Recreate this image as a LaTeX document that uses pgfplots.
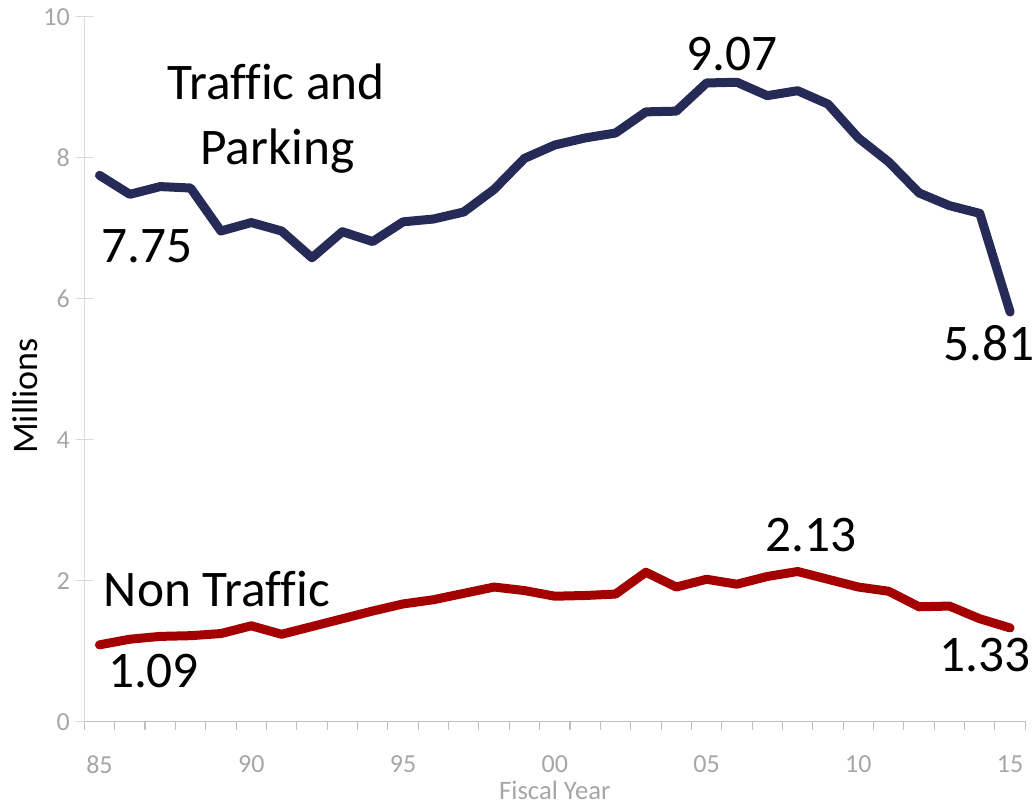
\documentclass[border=0pt]{standalone}
\usepackage{pgfplots}
\pgfplotsset{compat=1.18}
\usepackage{fontspec}
\setmainfont{Carlito}[Ligatures=NoCommon]
\definecolor{navy}{HTML}{262A56}
\definecolor{dred}{HTML}{A50000}
\definecolor{tickgray}{HTML}{A6A6A6}
\definecolor{ylinegray}{HTML}{D9D9D9}
\definecolor{xlinegray}{HTML}{BFBFBF}
\begin{document}
\begin{tikzpicture}
\useasboundingbox (0,0) rectangle (775.5pt,603.75pt);
\begin{axis}[
  at={(63.225pt,62.475pt)}, anchor=south west,
  scale only axis, width=705.75pt, height=528.75pt,
  xmin=-0.5, xmax=30.5, ymin=0, ymax=10,
  clip=false,
  axis x line*=bottom, axis y line*=left,
  x axis line style={draw=xlinegray, line width=1pt},
  y axis line style={draw=ylinegray, line width=1pt},
  xtick={0,5,...,30},
  xticklabels={85,90,95,00,05,10,15},
  minor xtick={-0.5,0.5,...,30.5},
  major x tick style={draw=none},
  minor x tick style={draw=xlinegray, line width=0.8pt},
  xtick align=outside,
  minor tick length=5.8pt,
  ytick={0,2,...,10},
  yticklabels={0,2,4,6,8,10},
  ytick align=center,
  major tick length=12.75pt,
  y tick style={draw=ylinegray, line width=0.8pt},
  tick label style={font=\fontsize{19.5}{20}\selectfont, text=tickgray},
  xticklabel style={yshift=-9.5pt},
  yticklabel style={xshift=-1pt},
  line join=round, line cap=round,
]
\addplot[navy, line width=6.75pt] coordinates {
(0,7.75)(1,7.48)(2,7.59)(3,7.57)(4,6.96)(5,7.08)(6,6.96)(7,6.58)(8,6.95)(9,6.81)
(10,7.09)(11,7.13)(12,7.23)(13,7.55)(14,7.99)(15,8.18)(16,8.28)(17,8.35)(18,8.65)(19,8.66)
(20,9.06)(21,9.07)(22,8.88)(23,8.95)(24,8.76)(25,8.28)(26,7.94)(27,7.50)(28,7.32)(29,7.21)(30,5.81)};
\addplot[dred, line width=6.75pt] coordinates {
(0,1.09)(1,1.17)(2,1.21)(3,1.22)(4,1.25)(5,1.36)(6,1.24)(7,1.35)(8,1.46)(9,1.57)
(10,1.67)(11,1.73)(12,1.82)(13,1.91)(14,1.86)(15,1.78)(16,1.79)(17,1.81)(18,2.12)(19,1.91)
(20,2.02)(21,1.95)(22,2.06)(23,2.13)(24,2.02)(25,1.91)(26,1.85)(27,1.63)(28,1.64)(29,1.46)(30,1.33)};
\begin{scope}[every node/.style={font=\fontsize{38.5}{40}\selectfont, anchor=base, inner sep=0pt}]
\node at (axis cs:5.82,8.82) {Traffic and};
\node at (axis cs:5.86,7.90) {Parking};
\node at (axis cs:1.58,6.51) {7.75};
\node at (axis cs:20.84,9.24) {9.07};
\node at (axis cs:29.31,5.13) {5.81};
\node at (axis cs:3.87,1.64) {Non Traffic};
\node at (axis cs:1.78,0.478) {1.09};
\node at (axis cs:23.44,2.41) {2.13};
\node at (axis cs:29.18,0.71) {1.33};
\end{scope}
\node[rotate=90, anchor=center, inner sep=0pt, font=\fontsize{27}{28}\selectfont] at (axis cs:-2.45,4.62) {Millions};
\node[anchor=base, inner sep=0pt, text=tickgray, font=\fontsize{20}{21}\selectfont] at (axis cs:15,-1.11) {Fiscal Year};
\end{axis}
\end{tikzpicture}
\end{document}
